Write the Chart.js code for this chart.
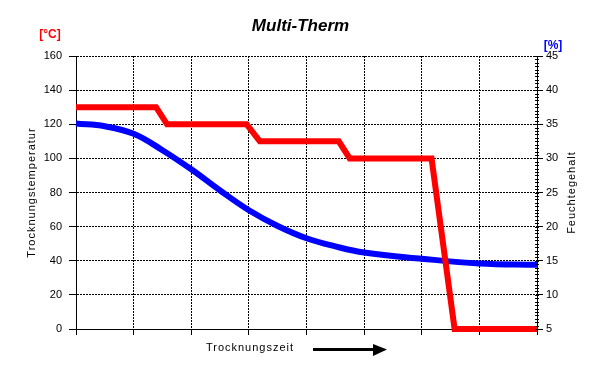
<!DOCTYPE html>
<html>
<head>
<meta charset="utf-8">
<script src="https://cdn.jsdelivr.net/npm/chart.js@4/dist/chart.umd.min.js"></script>
<style>
  html, body { margin: 0; padding: 0; background: #ffffff; }
  #wrap { width: 602px; height: 375px; }
</style>
</head>
<body>
<div id="wrap"><canvas id="c" width="602" height="375"></canvas></div>
<script>
// ---- data ----
const chartTitle = "Multi-Therm";
const leftAxisTitle = "Trocknungstemperatur";
const rightAxisTitle = "Feuchtegehalt";
const bottomAxisTitle = "Trocknungszeit";
const leftUnit = "[°C]";
const rightUnit = "[%]";

// drying time (grid units 0..8)
const tempTime = [0, 1.39, 1.58, 2.96, 3.19, 4.56, 4.75, 6.17, 6.57, 8];
// drying temperature [°C] (left axis)
const tempValues = [130, 130, 120, 120, 110, 110, 100, 100, 0, 0];

const humTime = [0, 0.5, 1, 1.5, 2, 2.5, 3, 3.5, 4, 4.5, 5, 6, 7, 8];
// moisture content [%] (right axis)
const humValues = [35.1, 34.7, 33.6, 31.2, 28.4, 25.3, 22.4, 20.1, 18.3, 17.1, 16.2, 15.3, 14.6, 14.4];

const leftTicks = { min: 0, max: 160, step: 20 };
const rightTicks = { min: 5, max: 45, step: 5 };
const timeTicks = { min: 0, max: 8, step: 1 };

const FONT = "'Liberation Sans', Arial, sans-serif";
const GRID_DASH = [2, 1];

const extras = {
  id: 'extras',
  afterDraw(chart) {
    const ctx = chart.ctx;
    const ca = chart.chartArea;
    const y1 = chart.scales.y1;
    ctx.save();
    // minor ticks on right axis
    ctx.strokeStyle = '#000';
    ctx.lineWidth = 1;
    for (let v = rightTicks.min; v <= rightTicks.max + 1e-6; v += 0.5) {
      const py = Math.round(y1.getPixelForValue(v)) + 0.5;
      ctx.beginPath();
      ctx.moveTo(ca.right - 2, py);
      ctx.lineTo(ca.right + 2, py);
      ctx.stroke();
    }
    // title
    ctx.fillStyle = '#000';
    ctx.textAlign = 'center';
    ctx.textBaseline = 'middle';
    ctx.font = "italic bold 17px " + FONT;
    ctx.fillText(chartTitle, (ca.left + ca.right) / 2 - 6, 26);
    // units
    ctx.font = "bold 12px " + FONT;
    ctx.fillStyle = '#ff0000';
    ctx.fillText(leftUnit, 50, 35);
    ctx.fillStyle = '#0000ff';
    ctx.fillText(rightUnit, 553, 46);
    // axis titles
    ctx.fillStyle = '#000';
    ctx.font = "11px " + FONT;
    ctx.letterSpacing = '1px';
    const cy = (ca.top + ca.bottom) / 2;
    ctx.save();
    ctx.translate(32, cy);
    ctx.rotate(-Math.PI / 2);
    ctx.fillText(leftAxisTitle, 0, 0);
    ctx.restore();
    ctx.save();
    ctx.translate(572, cy);
    ctx.rotate(-Math.PI / 2);
    ctx.fillText(rightAxisTitle, 0, 0);
    ctx.restore();
    // bottom title and arrow
    ctx.fillText(bottomAxisTitle, 250, 348);
    ctx.letterSpacing = '0px';
    ctx.lineWidth = 3;
    ctx.beginPath();
    ctx.moveTo(313, 349.5);
    ctx.lineTo(376, 349.5);
    ctx.stroke();
    ctx.beginPath();
    ctx.moveTo(373, 344);
    ctx.lineTo(387, 349.5);
    ctx.lineTo(373, 356);
    ctx.closePath();
    ctx.fill();
    ctx.restore();
  }
};

new Chart(document.getElementById('c'), {
  type: 'line',
  data: {
    datasets: [
      {
        label: 'Feuchtegehalt',
        data: humTime.map((t, i) => ({ x: t, y: humValues[i] })),
        yAxisID: 'y1',
        borderColor: '#0000ff',
        borderWidth: 6,
        pointRadius: 0,
        tension: 0.4,
        clip: false,
        order: 2
      },
      {
        label: 'Trocknungstemperatur',
        data: tempTime.map((t, i) => ({ x: t, y: tempValues[i] })),
        yAxisID: 'y',
        borderColor: '#ff0000',
        borderWidth: 6,
        pointRadius: 0,
        tension: 0,
        borderJoinStyle: 'miter',
        clip: false,
        order: 1
      }
    ]
  },
  options: {
    responsive: false,
    animation: false,
    devicePixelRatio: 1,
    layout: { padding: { top: 56, left: 0, right: 0, bottom: 0 } },
    plugins: { legend: { display: false }, tooltip: { enabled: false }, title: { display: false } },
    scales: {
      x: {
        type: 'linear',
        min: timeTicks.min, max: timeTicks.max,
        ticks: { stepSize: timeTicks.step, display: false },
        grid: { color: '#000', lineWidth: 1, tickLength: 6, drawTicks: true },
        border: { display: true, color: '#000', width: 1, dash: GRID_DASH },
        afterFit(s) { s.height = 46; }
      },
      y: {
        position: 'left',
        min: leftTicks.min, max: leftTicks.max,
        ticks: { stepSize: leftTicks.step, color: '#000', font: { family: FONT, size: 11 }, padding: 7 },
        grid: { color: '#000', lineWidth: 1, tickLength: 7, tickBorderDash: [], tickColor: '#000' },
        border: { display: true, color: '#000', width: 1, dash: GRID_DASH },
        afterFit(s) { s.width = 76; }
      },
      y1: {
        position: 'right',
        min: rightTicks.min, max: rightTicks.max,
        ticks: { stepSize: rightTicks.step, color: '#000', font: { family: FONT, size: 11 }, padding: 3 },
        grid: { drawOnChartArea: false, color: '#000', tickLength: 6, tickBorderDash: [] },
        border: { display: true, color: '#000', width: 1 },
        afterFit(s) { s.width = 65; }
      }
    }
  },
  plugins: [extras]
});
</script>
</body>
</html>
